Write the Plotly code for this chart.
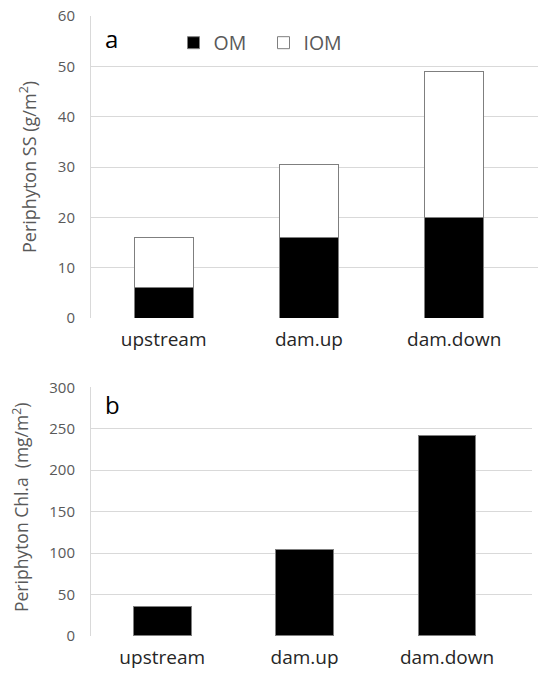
import plotly.graph_objects as go

sites = ["upstream", "dam.up", "dam.down"]
om = [6, 16, 20]
iom = [10, 14.5, 29]
chla = [35, 104, 242]

W, H = 538, 680
FONT = "Open Sans"
GRID = "#d9d9d9"
TICKGRAY = "#595959"

def px(x):
    return x / W

def py(y):
    return 1 - y / H

fig = go.Figure()
fig.add_trace(go.Bar(x=sites, y=om, name="OM", width=0.406,
                     marker=dict(color="black", line=dict(color="#7f7f7f", width=1)),
                     xaxis="x", yaxis="y"))
fig.add_trace(go.Bar(x=sites, y=iom, name="IOM", width=0.406,
                     marker=dict(color="white", line=dict(color="#7f7f7f", width=1)),
                     xaxis="x", yaxis="y"))
fig.add_trace(go.Bar(x=sites, y=chla, name="Chl.a", width=0.407, showlegend=False,
                     marker=dict(color="black", line=dict(color="#7f7f7f", width=1)),
                     xaxis="x2", yaxis="y2"))

xcommon = dict(type="category", showgrid=False, zeroline=False, showline=False,
               ticks="", tickfont=dict(family=FONT, size=19, color="#262626"),
               ticklabelstandoff=8, automargin=False)
ycommon = dict(showgrid=True, gridcolor=GRID, gridwidth=1, zeroline=False,
               showline=True, linecolor=GRID, linewidth=1, ticks="",
               tickfont=dict(family=FONT, size=15, color=TICKGRAY),
               ticklabelstandoff=12, automargin=False)

fig.update_layout(
    width=W, height=H,
    margin=dict(l=0, r=0, t=0, b=0, autoexpand=False),
    paper_bgcolor="white", plot_bgcolor="white",
    barmode="stack",
    xaxis=dict(domain=[px(91), 1.0], range=[-0.5, 2.577], anchor="y", **xcommon),
    yaxis=dict(domain=[py(318), py(16)], range=[0, 60], dtick=10, anchor="x", **ycommon),
    xaxis2=dict(domain=[px(91), px(532)], range=[-0.5, 2.597], anchor="y2", **xcommon),
    yaxis2=dict(domain=[py(636), py(387.3)], range=[0, 300], dtick=50, anchor="x2", **ycommon),
    showlegend=True,
    legend=dict(orientation="h", x=px(173.5), y=py(43), xanchor="left", yanchor="middle",
                traceorder="normal", bgcolor="rgba(0,0,0,0)",
                font=dict(family=FONT, size=19.5, color=TICKGRAY),
                entrywidth=45),
    annotations=[
        dict(text="Periphyton SS (g/m<sup>2</sup>)", x=px(28), y=py(167), xref="paper", yref="paper",
             xanchor="center", yanchor="middle",
             textangle=-90, showarrow=False, font=dict(family=FONT, size=18, color=TICKGRAY)),
        dict(text="Periphyton Chl.a\u00a0 (mg/m<sup>2</sup>)", x=px(20), y=py(508), xref="paper", yref="paper",
             xanchor="center", yanchor="middle",
             textangle=-90, showarrow=False, font=dict(family=FONT, size=17.5, color=TICKGRAY)),
        dict(text="a", x=px(111), y=py(38), xref="paper", yref="paper", showarrow=False,
             xanchor="center", yanchor="middle",
             font=dict(family=FONT, size=24, color="black")),
        dict(text="b", x=px(112), y=py(404), xref="paper", yref="paper", showarrow=False,
             xanchor="center", yanchor="middle",
             font=dict(family=FONT, size=24, color="black")),
    ],
)

fig.write_html("out.html")
